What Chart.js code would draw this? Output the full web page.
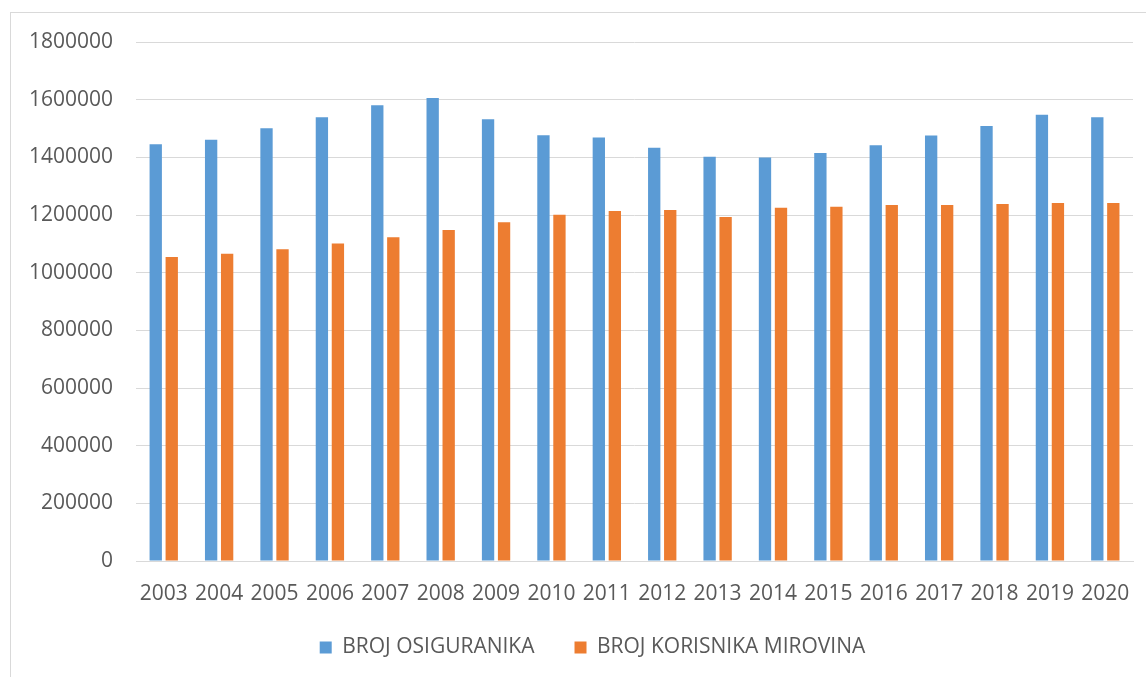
<!DOCTYPE html>
<html>
<head>
<meta charset="utf-8">
<script src="https://cdn.jsdelivr.net/npm/chart.js@4"></script>
<style>
  html, body { margin: 0; padding: 0; background: #fff; overflow: hidden; }
  .frame {
    position: absolute;
    left: 10px;
    top: 12px;
    width: 1200px;
    height: 700px;
    border: 1px solid #d9d9d9;
  }
  .chart-box {
    position: absolute;
    left: 0;
    top: 0;
    width: 1146px;
    height: 677px;
  }
</style>
</head>
<body>
<div class="frame"></div>
<div class="chart-box"><canvas id="myChart"></canvas></div>
<script>
const years = ['2003', '2004', '2005', '2006', '2007', '2008', '2009', '2010', '2011',
  '2012', '2013', '2014', '2015', '2016', '2017', '2018', '2019', '2020'];

const osiguranici = [1445000, 1461000, 1501000, 1539000, 1581000, 1606000, 1532000, 1477000,
  1469000, 1433000, 1402000, 1399000, 1415000, 1442000, 1476000, 1509000, 1548000, 1539000];

const korisnici = [1054000, 1066000, 1081000, 1101000, 1123000, 1148000, 1175000, 1201000,
  1214000, 1217000, 1193000, 1225000, 1229000, 1235000, 1235000, 1238000, 1242000, 1242000];

const yMin = 0;
const yMax = 1800000;
const yStep = 200000;

const labelColor = '#595959';
const gridColor = '#d9d9d9';
const fontFamily = '"Open Sans", sans-serif';

// nudges the legend box after layout (legend is centred on the whole frame, not the plot)
const legendOffset = {
  id: 'legendOffset',
  afterLayout(chart, args, opts) {
    const legend = chart.legend;
    legend.left += opts.x;
    legend.right += opts.x;
    legend.top += opts.y;
    legend.bottom += opts.y;
  },
};

const ctx = document.querySelector('#myChart').getContext('2d');

const chart = new Chart(ctx, {
  type: 'bar',
  plugins: [legendOffset],
  data: {
    labels: years,
    datasets: [
      {
        label: 'BROJ OSIGURANIKA',
        data: osiguranici,
        backgroundColor: '#5b9bd5',
        borderWidth: 0,
      },
      {
        label: 'BROJ KORISNIKA MIROVINA',
        data: korisnici,
        backgroundColor: '#ed7d31',
        borderWidth: 0,
      },
    ],
  },
  options: {
    responsive: true,
    maintainAspectRatio: false,
    animation: false,
    categoryPercentage: 0.578,
    barPercentage: 0.77,
    layout: {
      padding: { top: 42, left: 6, right: 13, bottom: 1 },
    },
    plugins: {
      tooltip: { enabled: false },
      legendOffset: { x: 23, y: -8 },
      legend: {
        position: 'bottom',
        align: 'center',
        labels: {
          boxWidth: 12,
          boxHeight: 12,
          padding: 40,
          color: labelColor,
          font: { family: fontFamily, size: 21 },
        },
      },
    },
    scales: {
      x: {
        grid: {
          display: true,
          drawOnChartArea: false,
          drawTicks: true,
          tickLength: 23,
          tickColor: 'rgba(0, 0, 0, 0)',
        },
        border: { display: true, color: gridColor, width: 1 },
        ticks: {
          color: labelColor,
          padding: 0,
          maxRotation: 0,
          autoSkip: false,
          font: { family: fontFamily, size: 21, lineHeight: 1 },
        },
      },
      y: {
        min: yMin,
        max: yMax,
        grid: {
          color: gridColor,
          lineWidth: 1,
          drawTicks: false,
        },
        border: { display: false },
        ticks: {
          stepSize: yStep,
          color: labelColor,
          padding: 23,
          font: { family: fontFamily, size: 21 },
          callback: value => String(value),
        },
      },
    },
  },
});
</script>
</body>
</html>
